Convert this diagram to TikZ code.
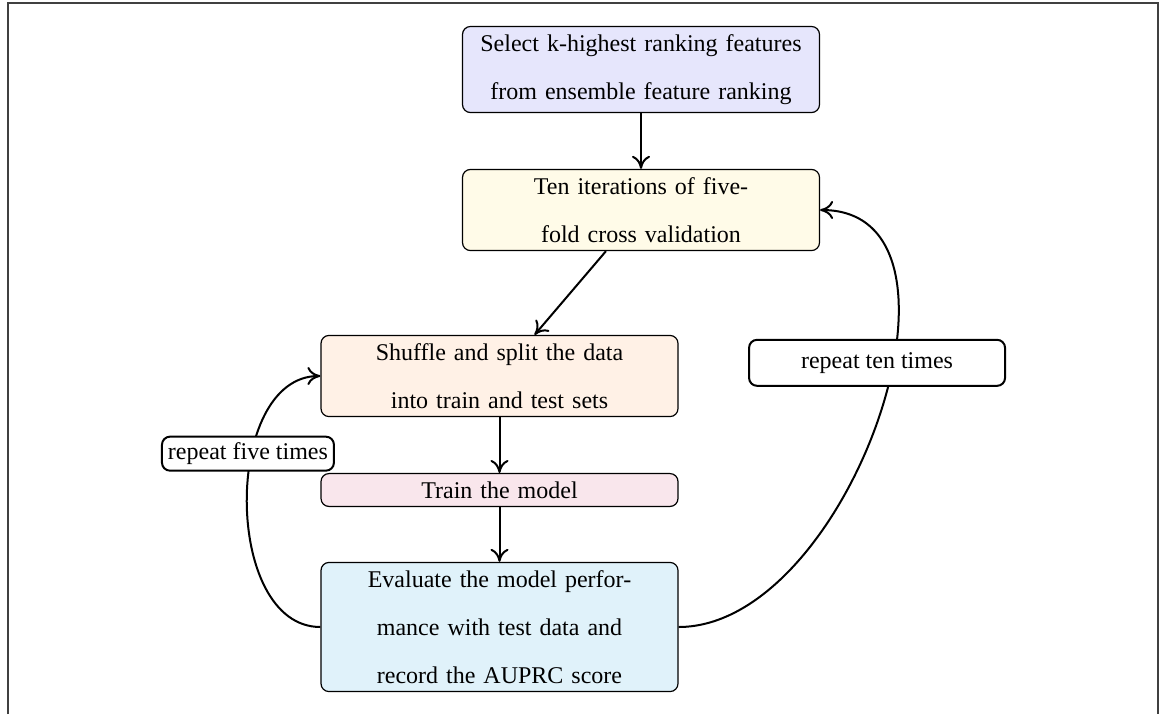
\documentclass[tikz,border=0pt]{standalone}
\usepackage{fontspec}
\setmainfont{Liberation Serif}
\usetikzlibrary{arrows.meta}

\definecolor{fillsel}{RGB}{230,230,252}
\definecolor{fillcv}{RGB}{255,251,232}
\definecolor{fillsplit}{RGB}{255,241,230}
\definecolor{filltrain}{RGB}{249,230,236}
\definecolor{fillevalc}{RGB}{224,242,250}

\tikzset{
  stepbox/.style={draw=black, line width=0.6pt, rounded corners=4pt,
    text width=170pt, inner xsep=4.25pt, inner ysep=4pt, align=center,
    font=\fontsize{12pt}{24pt}\selectfont},
  loopbox/.style={draw=black, line width=1pt, rounded corners=4pt, fill=white,
    inner sep=3pt, font=\fontsize{12pt}{14pt}\selectfont},
  flow/.style={line width=1pt, -{To[length=6.5pt,width=9pt]}},
  frameline/.style={line width=1pt, black!75}
}

\begin{document}
\begin{tikzpicture}[x=0.5pt, y=-0.5pt]
  \useasboundingbox (0,0) rectangle (1162,714);

  % open frame: left, top and right edges
  \draw[frameline] (8,714) -- (8,3) -- (1158,3) -- (1158,714);

  % process steps
  \node[stepbox, fill=fillsel]   (sel)   at (641,69.5)
    {Select k-highest ranking features\\from ensemble feature ranking};
  \node[stepbox, fill=fillcv]    (cv)    at (641,210)
    {Ten iterations of five-\\fold cross validation};
  \node[stepbox, fill=fillsplit] (split) at (499.5,376)
    {Shuffle and split the data\\into train and test sets};
  \node[stepbox, fill=filltrain] (train) at (499.5,490)
    {Train the model};
  \node[stepbox, fill=fillevalc] (eval)  at (499.5,627)
    {Evaluate the model perfor-\\mance with test data and\\record the AUPRC score};

  % straight connectors
  \draw[flow] (sel) -- (cv);
  \draw[flow] (cv) -- (split);
  \draw[flow] (split) -- (train);
  \draw[flow] (train) -- (eval);

  % inner loop: five folds
  \draw[flow] (eval.west) to[out=180, in=180]
    node[loopbox, pos=0.63, xshift=-2pt] (five) {repeat five times}
    (split.west);

  % outer loop: ten iterations
  \draw[flow] (eval.east) to[out=0, in=0]
    node[loopbox, pos=0.59, xshift=-8pt, minimum width=128pt, minimum height=23pt] (tenx) {repeat ten times}
    (cv.east);
\end{tikzpicture}
\end{document}
